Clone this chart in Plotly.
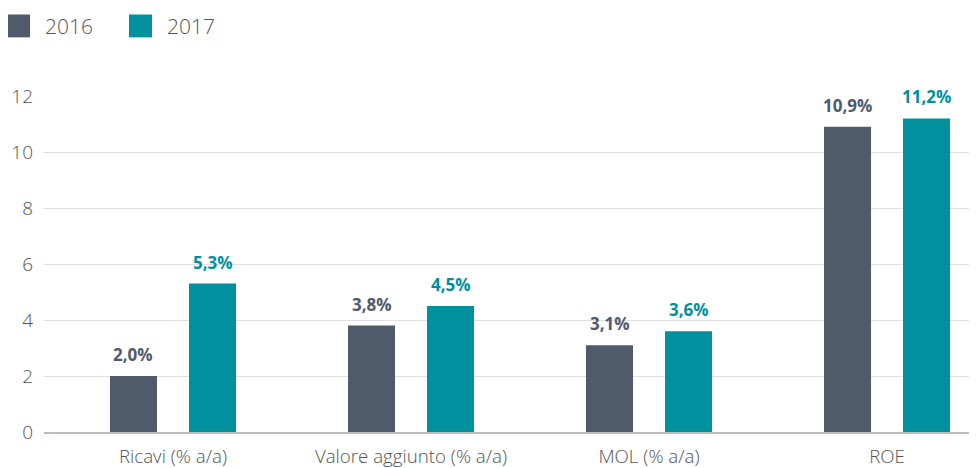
import plotly.graph_objects as go

categories = ["Ricavi (% a/a)", "Valore aggiunto (% a/a)", "MOL (% a/a)", "ROE"]
values_2016 = [2.0, 3.8, 3.1, 10.9]
values_2017 = [5.3, 4.5, 3.6, 11.2]
series_names = ["2016", "2017"]
colors = ["#4f5a6b", "#00909e"]
y_ticks = [0, 2, 4, 6, 8, 10, 12]

OFF = 8  # page body margin
W, H = 977 - OFF, 468 - OFF
# plot area in page pixels: x 44..977, y 96..434
L, R, T, B = 44 - OFF, 0, 96 - OFF, 468 - 434
pw, ph = W - L - R, H - T - B
BAR_SHIFT = 0.166  # half distance between bar centres in a group (category units)

def px(x):
    return (x - OFF - L) / pw

def py(y):
    return (H - B - (y - OFF)) / ph

def fmt(v):
    return f"{v:.1f}".replace(".", ",") + "%"

fig = go.Figure()
annotations = []
for k, (name, vals, col) in enumerate(zip(series_names, [values_2016, values_2017], colors)):
    fig.add_trace(go.Bar(
        x=list(range(len(categories))), y=vals, name=name,
        marker=dict(color=col, line=dict(width=0)),
        showlegend=False,
    ))
    sign = -1 if k == 0 else 1
    for i, v in enumerate(vals):
        annotations.append(dict(
            x=i + sign * BAR_SHIFT, y=v, xref="x", yref="y", text=fmt(v),
            showarrow=False, xanchor="center", yanchor="bottom", yshift=8,
            font=dict(family="Open Sans", size=17, color=col, weight="bold"),
        ))

shapes = []
leg_x = [7, 129]
for i, (name, col) in enumerate(zip(series_names, colors)):
    x0 = leg_x[i]
    shapes.append(dict(type="rect", xref="paper", yref="paper",
                       x0=px(x0), x1=px(x0 + 23), y0=py(37), y1=py(14),
                       fillcolor=col, line=dict(width=0)))
    annotations.append(dict(xref="paper", yref="paper", x=px(x0 + 36), y=py(25.5),
                            text=name, showarrow=False, xanchor="left", yanchor="middle",
                            font=dict(family="Open Sans", size=21, color="#555555", weight=300)))

fig.update_layout(
    width=W, height=H,
    margin=dict(l=L, r=R, t=T, b=B),
    paper_bgcolor="white", plot_bgcolor="white",
    barmode="group", bargap=0.336, bargroupgap=0.405,
    shapes=shapes, annotations=annotations,
    showlegend=False,
    font=dict(family="Open Sans", color="#555555"),
    xaxis=dict(
        tickmode="array", tickvals=list(range(len(categories))), ticktext=categories,
        range=[-0.542, 3.378], showgrid=False, zeroline=False,
        showline=True, linecolor="#bdbdbd", linewidth=2,
        tickfont=dict(family="Open Sans", size=18.7, color="#555555", weight=300),
        ticks="", ticklabelstandoff=7,
    ),
    yaxis=dict(
        range=[0, 12], tickvals=y_ticks, showgrid=True, gridcolor="#e0e0e0", gridwidth=1,
        zeroline=False, showline=False,
        tickfont=dict(family="Open Sans", size=19, color="#555555", weight=300),
        ticks="", ticklabelstandoff=10,
    ),
)

fig.write_html("out.html")
